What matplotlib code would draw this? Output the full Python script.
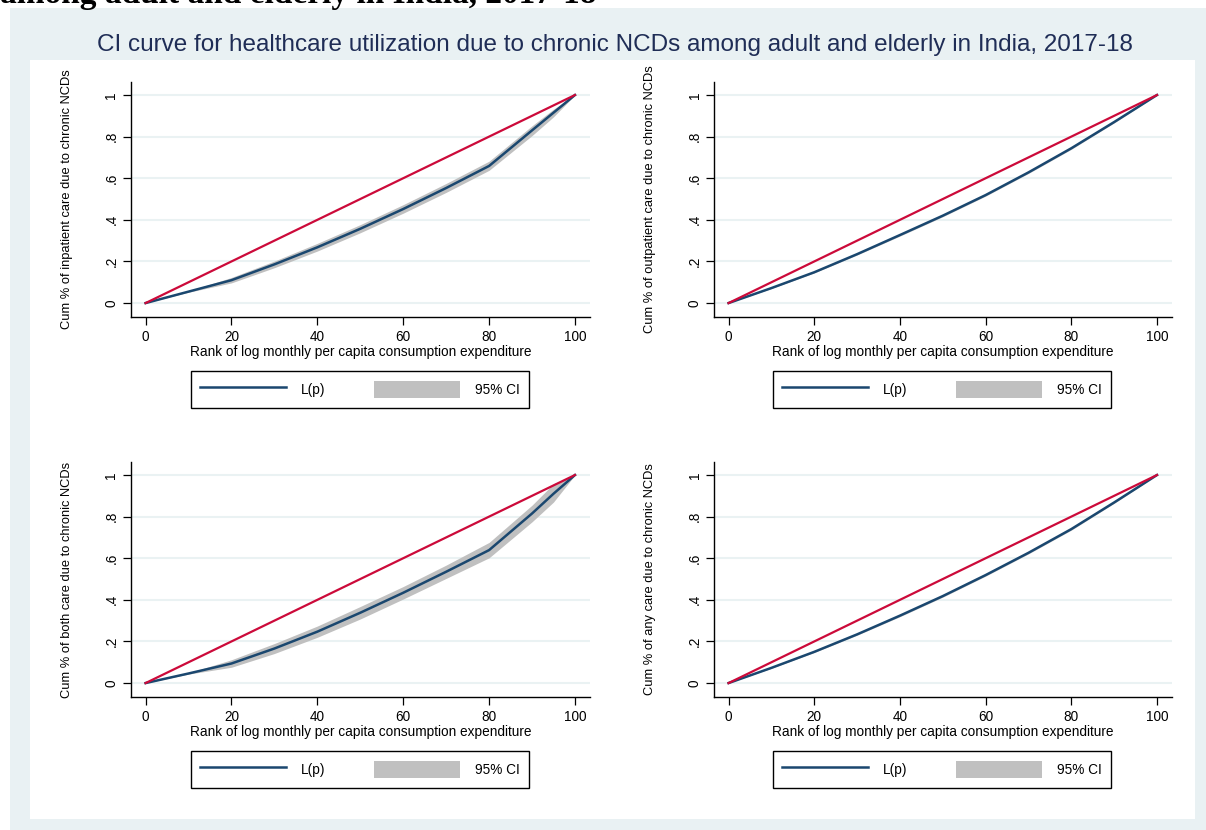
import matplotlib
matplotlib.use("Agg")
import matplotlib.pyplot as plt
from matplotlib.lines import Line2D
from matplotlib.patches import Patch, Rectangle

plt.rcParams['font.family'] = ['Liberation Sans', 'DejaVu Sans']

# ---------------- data ----------------
rank = [0, 10, 20, 30, 40, 50, 60, 70, 80, 90, 95, 100]

inpatient_L  = [0, 0.055, 0.110, 0.186, 0.268, 0.357, 0.452, 0.553, 0.659, 0.830, 0.915, 1.0]
inpatient_lo = [0, 0.052, 0.097, 0.170, 0.250, 0.338, 0.432, 0.532, 0.638, 0.805, 0.895, 1.0]
inpatient_hi = [0, 0.058, 0.123, 0.202, 0.287, 0.377, 0.473, 0.575, 0.682, 0.852, 0.932, 1.0]

outpatient_L  = [0, 0.072, 0.148, 0.235, 0.327, 0.420, 0.519, 0.628, 0.744, 0.870, 0.935, 1.0]
outpatient_lo = [0, 0.070, 0.145, 0.231, 0.322, 0.415, 0.514, 0.623, 0.739, 0.866, 0.932, 1.0]
outpatient_hi = [0, 0.074, 0.151, 0.239, 0.332, 0.425, 0.524, 0.633, 0.749, 0.874, 0.938, 1.0]

both_L  = [0, 0.046, 0.094, 0.166, 0.247, 0.338, 0.434, 0.535, 0.639, 0.815, 0.910, 1.0]
both_lo = [0, 0.043, 0.076, 0.142, 0.220, 0.308, 0.404, 0.503, 0.602, 0.775, 0.870, 1.0]
both_hi = [0, 0.049, 0.112, 0.190, 0.274, 0.368, 0.464, 0.567, 0.676, 0.855, 0.958, 1.0]

any_L  = [0, 0.073, 0.150, 0.234, 0.324, 0.418, 0.519, 0.626, 0.740, 0.868, 0.934, 1.0]
any_lo = [0, 0.071, 0.147, 0.230, 0.319, 0.413, 0.514, 0.621, 0.735, 0.864, 0.931, 1.0]
any_hi = [0, 0.075, 0.153, 0.238, 0.329, 0.423, 0.524, 0.631, 0.745, 0.872, 0.937, 1.0]

equality = [0, 100]
equality_y = [0, 1]

ylabels = [
    "Cum % of inpatient care due to chronic NCDs",
    "Cum % of outpatient care due to chronic NCDs",
    "Cum % of both care due to chronic NCDs",
    "Cum % of any care due to chronic NCDs",
]
xlabel = "Rank of log monthly per capita consumption expenditure"
xticks = [0, 20, 40, 60, 80, 100]
yticks = [0, 0.2, 0.4, 0.6, 0.8, 1.0]
yticklabels = ["0", ".2", ".4", ".6", ".8", "1"]
title = "CI curve for healthcare utilization due to chronic NCDs among adult and elderly in India, 2017-18"
top_text = "among adult and elderly in India, 2017-18"

series = [
    (inpatient_L, inpatient_lo, inpatient_hi),
    (outpatient_L, outpatient_lo, outpatient_hi),
    (both_L, both_lo, both_hi),
    (any_L, any_lo, any_hi),
]

# ---------------- style ----------------
W, H = 1206, 830
NAVY = "#1a476f"
RED = "#cc0a3a"
BAND = "#c0c0c0"
BG = "#e9f1f3"
GRID = "#eaf2f3"
FS = 9.8

fig = plt.figure(figsize=(W / 100, H / 100), dpi=100)
fig.patch.set_facecolor("white")

def px_rect(x0, y0, x1, y1, **kw):
    return Rectangle((x0 / W, 1 - y1 / H), (x1 - x0) / W, (y1 - y0) / H,
                     transform=fig.transFigure, **kw)

fig.patches.append(px_rect(10, 8, 1206, 830, facecolor=BG, edgecolor="none", zorder=-10))
fig.patches.append(px_rect(30, 60, 1195, 819, facecolor="white", edgecolor="none", zorder=-9))

fig.text(0.0, 1 - 3.5 / H, top_text, family=["Liberation Serif"], weight="bold",
         fontsize=24, ha="left", va="baseline", color="black")
fig.text(615 / W, 1 - 44.5 / H, title, fontsize=17.5, color="#1f2d56",
         ha="center", va="center")

# axes positions in pixels: (left, top, right, bottom)
boxes = [
    (131, 82, 590, 317),
    (714, 82, 1172, 317),
    (131, 462, 590, 697),
    (714, 462, 1172, 697),
]
legend_centers = [(360, 389.5), (942, 389.5), (360, 769.5), (942, 769.5)]

for i, ((L, lo, hi), (l, t, r, b)) in enumerate(zip(series, boxes)):
    ax = fig.add_axes([l / W, 1 - b / H, (r - l) / W, (b - t) / H])
    ax.set_zorder(2)
    ax.set_facecolor("white")
    ax.fill_between(rank, lo, hi, color=BAND, linewidth=0, zorder=2)
    ax.plot(rank, L, color=NAVY, lw=1.8, zorder=3)
    ax.plot(equality, equality_y, color=RED, lw=1.6, zorder=4)
    ax.set_xlim(-3.4, 103.5)
    ax.set_ylim(-0.067, 1.0625)
    ax.set_xticks(xticks)
    ax.set_yticks(yticks)
    ax.set_yticklabels(yticklabels, rotation=90, va="center")
    ax.tick_params(axis="both", direction="out", length=6, width=0.9,
                   labelsize=FS, color="black", pad=3)
    for s in ("top", "right"):
        ax.spines[s].set_visible(False)
    for s in ("left", "bottom"):
        ax.spines[s].set_linewidth(1.0)
        ax.spines[s].set_color("black")
    ax.grid(axis="y", color=GRID, lw=1.5, zorder=0)
    ax.grid(axis="x", visible=False)
    ax.set_axisbelow(True)
    ax.set_xlabel(xlabel, fontsize=FS, labelpad=1)
    ax.set_ylabel(ylabels[i], fontsize=9.3, labelpad=23)

    handles = [Line2D([], [], color=NAVY, lw=1.8), Patch(facecolor=BAND, edgecolor="none")]
    cx, cy = legend_centers[i]
    leg = ax.legend(handles, ["L(p)", "95% CI"], ncol=2, loc="center",
                    bbox_to_anchor=(cx / W, 1 - cy / H), bbox_transform=fig.transFigure,
                    fontsize=FS, frameon=True, fancybox=False, framealpha=1,
                    edgecolor="black", handlelength=6.3, handleheight=1.65,
                    handletextpad=1.1, columnspacing=3.6, borderpad=0.7)
    leg.get_frame().set_linewidth(1.0)

fig.savefig("out.png", dpi=100, facecolor=fig.get_facecolor())
